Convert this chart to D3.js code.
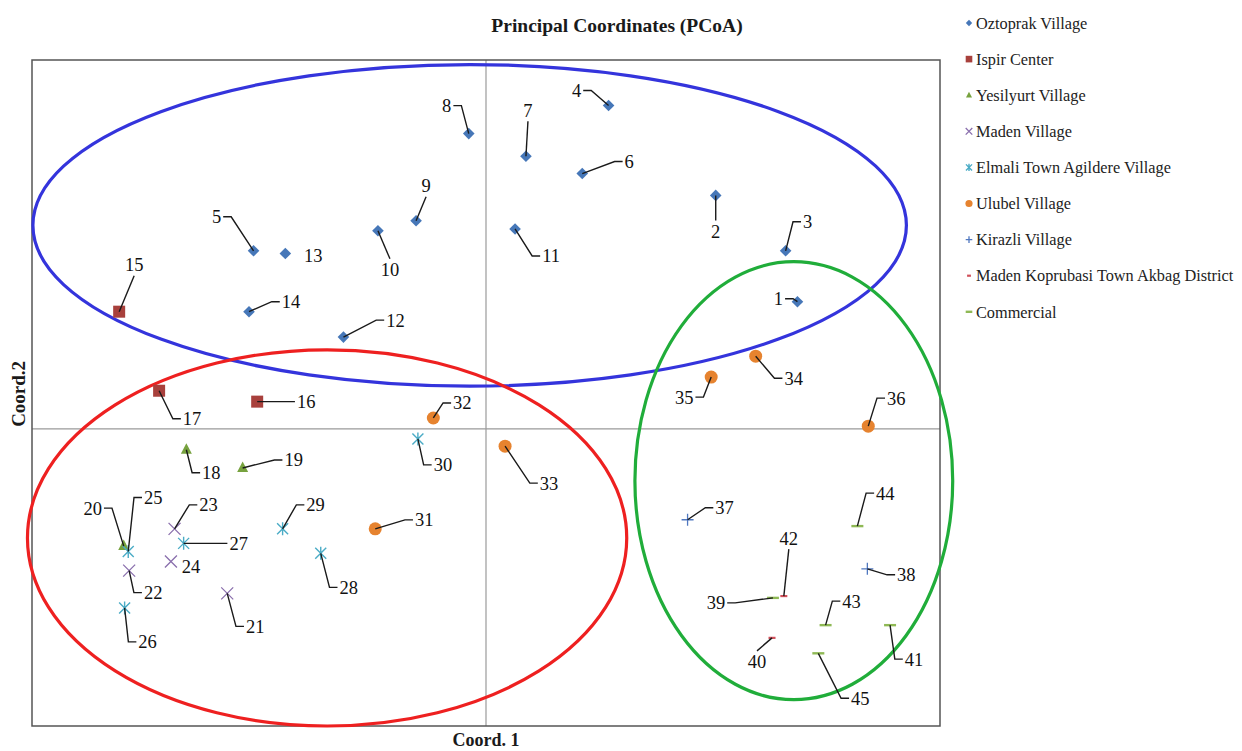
<!DOCTYPE html>
<html>
<head>
<meta charset="utf-8" />
<title>PCoA</title>
<script src="https://cdn.jsdelivr.net/npm/d3@7/dist/d3.min.js"></script>
<style>
  body { margin: 0; background: #fff; }
  text { font-family: "Liberation Serif", "DejaVu Serif", serif; }
</style>
</head>
<body>
<div id="chart"></div>
<script>
// groups (legend order)
const groups = [
  "Oztoprak Village", "Ispir Center", "Yesilyurt Village", "Maden Village",
  "Elmali Town Agildere Village", "Ulubel Village", "Kirazli Village",
  "Maden Koprubasi Town Akbag District", "Commercial"
];
// samples
const pointIds = [1,2,3,4,5,6,7,8,9,10,11,12,13,14,15,16,17,18,19,20,21,22,23,24,25,26,27,28,29,30,
  31,32,33,34,35,36,37,38,39,40,41,42,43,44,45];
const coord1 = [0.343,0.253,0.330,0.135,-0.256,0.106,0.044,-0.019,-0.077,-0.119,0.032,-0.157,-0.221,-0.261,
  -0.404,-0.252,-0.360,-0.330,-0.268,-0.399,-0.285,-0.393,-0.343,-0.347,-0.394,-0.398,-0.333,-0.182,-0.224,
  -0.075,-0.122,-0.058,0.021,0.297,0.248,0.421,0.222,0.420,0.316,0.315,0.445,0.328,0.374,0.409,0.366];
const coord2 = [0.140,0.257,0.196,0.356,0.196,0.281,0.300,0.325,0.229,0.218,0.220,0.101,0.193,0.129,
  0.129,0.030,0.042,-0.023,-0.043,-0.129,-0.181,-0.156,-0.110,-0.146,-0.135,-0.197,-0.126,-0.137,-0.110,
  -0.011,-0.110,0.012,-0.019,0.080,0.057,0.003,-0.100,-0.154,-0.186,-0.230,-0.216,-0.184,-0.216,-0.107,-0.247];
const pointGroup = [0,0,0,0,0,0,0,0,0,0,0,0,0,0,
  1,1,1,2,2,2,3,3,3,3,4,4,4,4,4,4,5,5,5,5,5,5,6,6,8,7,8,7,8,8,8];

// hand-drawn cluster ellipses, in coordinate units
const ellipseCx = [-0.018, -0.175, 0.339];
const ellipseCy = [0.224, -0.120, -0.057];
const ellipseRx = [0.481, 0.330, 0.175];
const ellipseRy = [0.177, 0.207, 0.241];

// styling
const ellipseColor = ["#3434dc", "#ee2020", "#20ad3a"];
const markerColor = ["#4677b8", "#a8403c", "#77a23e", "#8a6fad", "#4bacc6", "#e6832f", "#5078c0", "#d0505a", "#8fb955"];

// data-label placement: [dx, dy, side] in px relative to the point
const labelLayout = {
  1:[-19,-3,"l"], 2:[0,36,"b"], 3:[22,-29,"r"], 4:[-32,-15,"l"], 5:[-37,-34,"l"], 6:[47,-12,"r"],
  7:[2,-46,"t"], 8:[-22,-28,"l"], 9:[10,-35,"t"], 10:[12,39,"b"], 11:[36,27,"r"], 12:[52,-17,"r"],
  13:[28,2,"n"], 14:[42,-10,"r"], 15:[15,-47,"t"], 16:[49,0,"r"], 17:[33,28,"r"], 18:[25,23,"r"],
  19:[51,-8,"r"], 20:[-31,-38,"l"], 21:[28,33,"r"], 22:[24,22,"r"], 23:[34,-24,"r"], 24:[20,5,"n"],
  25:[25,-54,"r"], 26:[23,34,"r"], 27:[55,0,"r"], 28:[28,34,"r"], 29:[33,-24,"r"], 30:[25,26,"r"],
  31:[49,-9,"r"], 32:[29,-15,"r"], 33:[44,37,"r"], 34:[38,22,"r"], 35:[-27,20,"l"], 36:[28,-28,"r"],
  37:[37,-12,"r"], 38:[39,6,"r"], 39:[-57,5,"l"], 40:[-15,24,"b"], 41:[24,34,"r"], 42:[5,-58,"t"],
  43:[26,-24,"r"], 44:[28,-33,"r"], 45:[42,45,"r"]
};

const width = 1242, height = 751;
const box = { left: 32, right: 940, top: 60, bottom: 726 };

const svg = d3.select("#chart").append("svg")
  .attr("width", width).attr("height", height)
  .attr("viewBox", [0, 0, width, height]);

const x = d3.scaleLinear().domain([-0.5, 0.5]).range([box.left, box.right]);
const y = d3.scaleLinear().domain([-0.327, 0.406]).range([box.bottom, box.top]);

// title
svg.append("text").attr("x", 617).attr("y", 32).attr("text-anchor", "middle")
  .attr("font-weight", "bold").attr("font-size", 19.5).attr("fill", "#1a1a1a")
  .text("Principal Coordinates (PCoA)");

// zero lines (axes through the origin)
svg.append("line").attr("x1", x(0)).attr("x2", x(0)).attr("y1", box.top).attr("y2", box.bottom)
  .attr("stroke", "#9a9a9a").attr("stroke-width", 1.2);
svg.append("line").attr("x1", box.left).attr("x2", box.right).attr("y1", y(0)).attr("y2", y(0))
  .attr("stroke", "#9a9a9a").attr("stroke-width", 1.2);

// plot frame
svg.append("rect").attr("x", box.left).attr("y", box.top)
  .attr("width", box.right - box.left).attr("height", box.bottom - box.top)
  .attr("fill", "none").attr("stroke", "#555").attr("stroke-width", 1.5);

// axis titles
svg.append("text").attr("x", x(0)).attr("y", 746).attr("text-anchor", "middle")
  .attr("font-weight", "bold").attr("font-size", 18).attr("fill", "#1a1a1a").text("Coord. 1");
svg.append("text").attr("transform", `translate(25,${y(0) - 35}) rotate(-90)`)
  .attr("text-anchor", "middle").attr("font-weight", "bold").attr("font-size", 19)
  .attr("fill", "#1a1a1a").text("Coord.2");

// markers
function marker(g, k, s) {
  const c = markerColor[k];
  if (k === 0) {
    g.append("path").attr("d", `M0,${-5.8*s}L${5.8*s},0L0,${5.8*s}L${-5.8*s},0Z`).attr("fill", c);
  } else if (k === 1) {
    g.append("rect").attr("x", -6*s).attr("y", -6*s).attr("width", 12*s).attr("height", 12*s).attr("fill", c);
  } else if (k === 2) {
    g.append("path").attr("d", `M0,${-6.5*s}L${5.5*s},${4*s}L${-5.5*s},${4*s}Z`).attr("fill", c);
  } else if (k === 3) {
    g.append("path").attr("d", `M${-6*s},${-6*s}L${6*s},${6*s}M${6*s},${-6*s}L${-6*s},${6*s}`)
      .attr("stroke", c).attr("stroke-width", 1.3);
  } else if (k === 4) {
    g.append("path").attr("d", `M${-5.5*s},${-5.5*s}L${5.5*s},${5.5*s}M${5.5*s},${-5.5*s}L${-5.5*s},${5.5*s}M0,${-6.5*s}L0,${6.5*s}`)
      .attr("stroke", c).attr("stroke-width", 1.4);
  } else if (k === 5) {
    g.append("circle").attr("r", 6.5*s).attr("fill", c);
  } else if (k === 6) {
    g.append("path").attr("d", `M${-6*s},0L${6*s},0M0,${-6*s}L0,${6*s}`).attr("stroke", c).attr("stroke-width", 1.3);
  } else if (k === 7) {
    g.append("path").attr("d", `M${-3.5*s},0L${3.5*s},0`).attr("stroke", c).attr("stroke-width", 2.2);
  } else {
    g.append("path").attr("d", `M${-6*s},0L${6*s},0`).attr("stroke", c).attr("stroke-width", 2.4);
  }
}

// ellipses
const ell = svg.append("g").attr("fill", "none").attr("stroke-width", 3.2);
ellipseCx.forEach((cx, i) => {
  ell.append("ellipse")
    .attr("cx", x(cx)).attr("cy", y(ellipseCy[i]))
    .attr("rx", x(ellipseRx[i]) - x(0)).attr("ry", y(0) - y(ellipseRy[i]))
    .attr("stroke", ellipseColor[i]);
});

const pts = pointIds.map((id, i) => ({ id, px: x(coord1[i]), py: y(coord2[i]), k: pointGroup[i] }));

const pg = svg.append("g");
pts.forEach(p => {
  const g = pg.append("g").attr("transform", `translate(${p.px},${p.py})`);
  marker(g, p.k, 1);
});

// data labels with leader lines
const lg = svg.append("g");
const leaders = svg.append("g").attr("fill", "none").attr("stroke", "#1a1a1a").attr("stroke-width", 1.4);
pts.forEach(p => {
  const [dx, dy, side] = labelLayout[p.id];
  const lx = p.px + dx, ly = p.py + dy;
  const t = lg.append("text").attr("x", lx).attr("y", ly).attr("dy", "0.35em")
    .attr("text-anchor", "middle").attr("font-size", 18.5).attr("fill", "#111").text(p.id);
  const hw = t.node().getComputedTextLength() / 2;
  let d = null;
  if (side === "r") {
    const ex = lx - hw - 2;
    d = Math.abs(dy) < 3 ? `M${p.px},${p.py}L${ex},${ly}` : `M${p.px},${p.py}L${ex - 8},${ly}L${ex},${ly}`;
  } else if (side === "l") {
    const ex = lx + hw + 2;
    d = Math.abs(dy) < 3 ? `M${p.px},${p.py}L${ex},${ly}` : `M${p.px},${p.py}L${ex + 8},${ly}L${ex},${ly}`;
  } else if (side === "t") {
    d = `M${p.px},${p.py}L${lx},${ly + 11}`;
  } else if (side === "b") {
    d = `M${p.px},${p.py}L${lx},${ly - 11}`;
  }
  if (d) leaders.append("path").attr("d", d);
});

// legend
const leg = svg.append("g");
groups.forEach((name, i) => {
  const row = leg.append("g").attr("transform", `translate(969,${23 + i * 36.1})`);
  marker(row, i, 0.55);
  row.append("text").attr("x", 7).attr("dy", "0.35em").attr("font-size", 16.3)
    .attr("fill", "#222").text(name);
});
</script>
</body>
</html>
